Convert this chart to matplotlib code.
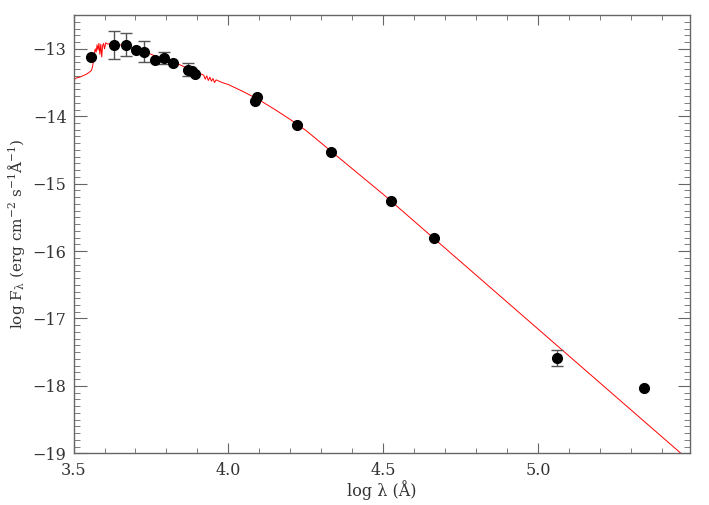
import numpy as np
import matplotlib
matplotlib.use("Agg")
import matplotlib.pyplot as plt
from matplotlib.ticker import MultipleLocator, FuncFormatter

# photometry (log lambda, log F_lambda, error)
phot_x = [3.558, 3.632, 3.669, 3.701, 3.729, 3.764, 3.793, 3.821, 3.871, 3.882,
          3.893, 4.086, 4.092, 4.221, 4.331, 4.525, 4.663, 5.061, 5.342]
phot_y = [-13.12, -12.94, -12.94, -13.01, -13.04, -13.17, -13.13, -13.21, -13.31, -13.33,
          -13.37, -13.77, -13.72, -14.13, -14.53, -15.26, -15.81, -17.59, -18.03]
phot_err = [0.0, 0.21, 0.17, 0.0, 0.16, 0.0, 0.09, 0.0, 0.10, 0.0,
            0.0, 0.0, 0.0, 0.0, 0.0, 0.0, 0.0, 0.12, 0.0]

# model spectrum
model_x = [3.500, 3.510, 3.520, 3.530, 3.540, 3.550, 3.558, 3.562, 3.566, 3.570,
           3.573, 3.576, 3.579, 3.582, 3.585, 3.588, 3.591, 3.594, 3.597, 3.600,
           3.604, 3.610, 3.620, 3.630, 3.640, 3.650, 3.660, 3.670, 3.680, 3.700,
           3.720, 3.740, 3.760, 3.780, 3.800, 3.820, 3.840, 3.860, 3.880, 3.900,
           3.910, 3.920, 3.925, 3.930, 3.935, 3.940, 3.945, 3.950, 3.955, 3.960,
           3.970, 3.980, 4.000, 4.050, 4.100, 4.150, 4.200, 4.250, 4.300, 4.350,
           4.400, 4.450, 4.500, 4.550, 4.600, 4.700, 4.800, 4.900, 5.000, 5.100,
           5.200, 5.300, 5.400, 5.500]
model_y = [-13.46, -13.43, -13.42, -13.40, -13.38, -13.35, -13.32, -13.25, -13.10, -13.00,
           -13.05, -12.94, -13.02, -12.92, -13.08, -12.93, -13.12, -12.95, -12.92, -13.00,
           -12.91, -12.93, -12.92, -12.92, -12.93, -12.94, -12.95, -12.96, -12.98, -13.00,
           -13.03, -13.06, -13.10, -13.13, -13.16, -13.20, -13.23, -13.27, -13.31, -13.35,
           -13.37, -13.39, -13.45, -13.40, -13.47, -13.42, -13.48, -13.44, -13.50, -13.46,
           -13.48, -13.50, -13.53, -13.64, -13.76, -13.90, -14.05, -14.21, -14.40, -14.59,
           -14.78, -14.97, -15.16, -15.36, -15.56, -15.96, -16.36, -16.76, -17.16, -17.56,
           -17.96, -18.36, -18.76, -19.16]

plt.rcParams['font.family'] = 'serif'
plt.rcParams['font.serif'] = ['DejaVu Serif']
plt.rcParams['mathtext.fontset'] = 'dejavuserif'
plt.rcParams['mathtext.default'] = 'regular'

fig = plt.figure(figsize=(7.09, 5.05), dpi=100)
ax = fig.add_axes([0.1037, 0.1024, 0.8693, 0.8676])

ax.plot(model_x, model_y, color='red', lw=0.7)
ex = [x for x, e in zip(phot_x, phot_err) if e > 0]
ey = [y for y, e in zip(phot_y, phot_err) if e > 0]
ee = [e for e in phot_err if e > 0]
ax.errorbar(ex, ey, yerr=ee, fmt='none', ecolor='#555555', elinewidth=1.0, capsize=4)
ax.plot(phot_x, phot_y, 'o', color='black', ms=7)

ax.set_xlim(3.5, 5.489)
ax.set_ylim(-19, -12.5)
ax.xaxis.set_major_locator(MultipleLocator(0.5))
ax.xaxis.set_minor_locator(MultipleLocator(0.1))
ax.yaxis.set_major_locator(MultipleLocator(1))
ax.yaxis.set_minor_locator(MultipleLocator(0.1))
ax.xaxis.set_major_formatter(FuncFormatter(lambda v, p: '%.1f' % v))
ax.yaxis.set_major_formatter(FuncFormatter(lambda v, p: ('%d' % round(v)).replace('-', '\u2212')))

gray = '#666666'
for s in ax.spines.values():
    s.set_color(gray)
    s.set_linewidth(1.0)
ax.tick_params(which='both', direction='in', top=True, right=True, colors=gray,
               labelcolor='#333333', labelsize=11.5)
ax.tick_params(axis='x', which='major', length=7, pad=6)
ax.tick_params(axis='x', which='minor', length=3.5)
ax.tick_params(axis='y', which='major', length=9, pad=5)
ax.tick_params(axis='y', which='minor', length=4.5)

ax.set_xlabel('log \u03bb (\u00c5)', fontsize=11.5, color='#333333', labelpad=1)
ax.set_ylabel('log F$_{\u03bb}$ (erg cm$^{\u22122}$ s$^{\u22121}$\u00c5$^{\u22121}$)', fontsize=11,
              color='#333333')
ax.yaxis.set_label_coords(-0.075, 0.5)

fig.savefig('out.png', dpi=100)
